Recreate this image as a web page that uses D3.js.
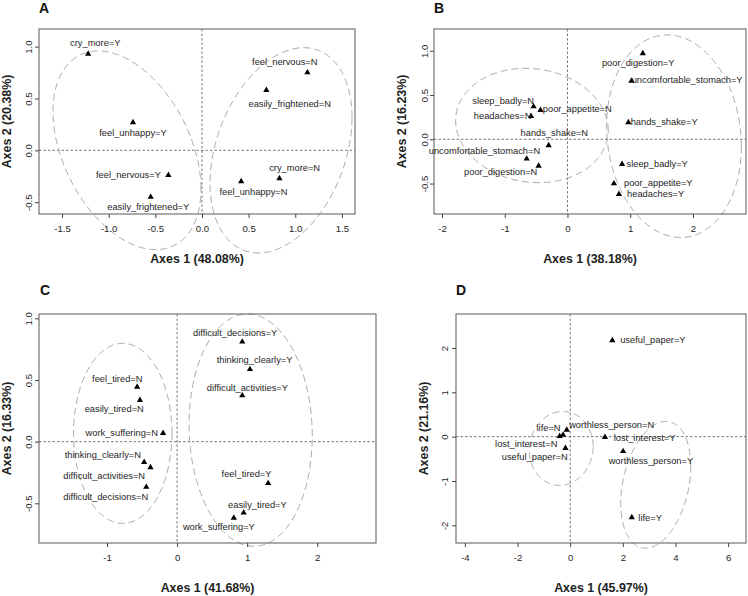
<!DOCTYPE html>
<html><head><meta charset="utf-8">
<script src="https://cdn.jsdelivr.net/npm/d3@7"></script>
<style>
body{margin:0;background:#fff;}
svg{display:block;font-family:"Liberation Sans",Arial,Helvetica,sans-serif;}
</style></head><body>
<svg id="chart" width="748" height="596"></svg>
<script>
// ---------------- DATA ----------------
const panelLetters = ["A", "B", "C", "D"];
const xTitles = ["Axes 1 (48.08%)", "Axes 1 (38.18%)", "Axes 1 (41.68%)", "Axes 1 (45.97%)"];
const yTitles = ["Axes 2 (20.38%)", "Axes 2 (16.23%)", "Axes 2 (16.33%)", "Axes 2 (21.16%)"];

// Panel A
const aLabels = ["cry_more=Y","feel_unhappy=Y","feel_nervous=Y","easily_frightened=Y","feel_nervous=N","easily_frightened=N","cry_more=N","feel_unhappy=N"];
const aX = [-1.22, -0.74, -0.36, -0.55, 1.13, 0.69, 0.83, 0.42];
const aY = [0.93, 0.27, -0.24, -0.45, 0.75, 0.58, -0.27, -0.30];
const aLabelX = [-1.144, -0.74, -0.788, -0.576, 0.887, 0.94, 0.993, 0.552];
const aLabelY = [1.038, 0.17, -0.238, -0.544, 0.849, 0.446, -0.174, -0.399];
const aXTicks = [-1.5, -1.0, -0.5, 0.0, 0.5, 1.0, 1.5];
const aYTicks = [-0.5, 0.0, 0.5, 1.0];
const aXLim = [-1.747, 1.64];
const aYLim = [-0.614, 1.17];
const aEllCX = [-0.804, 0.847];
const aEllCY = [0.0, 0.0];
const aEllW = [0.793, 0.761];
const aEllH = [0.958, 0.99];
const aEllTilt = [-0.39, 0.32];

// Panel B
const bLabels = ["poor_digestion=Y","uncomfortable_stomach=Y","hands_shake=Y","sleep_badly=Y","poor_appetite=Y","headaches=Y","sleep_badly=N","poor_appetite=N","headaches=N","hands_shake=N","uncomfortable_stomach=N","poor_digestion=N"];
const bX = [1.20, 1.02, 0.97, 0.87, 0.74, 0.82, -0.54, -0.43, -0.58, -0.30, -0.65, -0.46];
const bY = [0.97, 0.66, 0.19, -0.28, -0.50, -0.62, 0.37, 0.33, 0.26, -0.07, -0.22, -0.30];
const bLabelX = [1.127, 1.907, 1.541, 1.43, 1.447, 1.405, -1.025, 0.157, -1.033, -0.21, -1.323, -1.065];
const bLabelY = [0.866, 0.67, 0.192, -0.279, -0.497, -0.618, 0.429, 0.342, 0.26, 0.068, -0.129, -0.373];
const bXTicks = [-2, -1, 0, 1, 2];
const bYTicks = [-0.5, 0.0, 0.5, 1.0];
const bXLim = [-2.127, 2.845];
const bYLim = [-0.844, 1.246];
const bEllCX = [-0.566, 1.697];
const bEllCY = [0.156, 0.035];
const bEllW = [1.216, 1.074];
const bEllH = [0.646, 1.144];
const bEllTilt = [-0.085, -0.1];

// Panel C
const cLabels = ["difficult_decisions=Y","thinking_clearly=Y","difficult_activities=Y","feel_tired=Y","easily_tired=Y","work_suffering=Y","feel_tired=N","easily_tired=N","work_suffering=N","thinking_clearly=N","difficult_activities=N","difficult_decisions=N"];
const cX = [0.93, 1.04, 0.93, 1.30, 0.95, 0.81, -0.57, -0.53, -0.20, -0.47, -0.38, -0.44];
const cY = [0.81, 0.587, 0.374, -0.338, -0.577, -0.619, 0.444, 0.336, 0.069, -0.166, -0.209, -0.368];
const cLabelX = [0.829, 1.106, 1.003, 0.991, 1.146, 0.596, -0.854, -0.897, -0.79, -1.059, -1.04, -1.019];
const cLabelY = [0.879, 0.662, 0.433, -0.261, -0.512, -0.695, 0.506, 0.263, 0.069, -0.107, -0.277, -0.452];
const cXTicks = [-1, 0, 1, 2];
const cYTicks = [-0.5, 0.0, 0.5, 1.0];
const cXLim = [-1.971, 2.839];
const cYLim = [-0.822, 1.035];
const cEllCX = [-0.776, 1.05];
const cEllCY = [0.067, 0.093];
const cEllW = [0.703, 0.879];
const cEllH = [0.73, 0.942];
const cEllTilt = [0.0, -0.05];

// Panel D
const dLabels = ["useful_paper=Y","lost_interest=Y","worthless_person=Y","life=Y","life=N","worthless_person=N","lost_interest=N","useful_paper=N"];
const dX = [1.60, 1.32, 2.01, 2.34, -0.40, -0.13, -0.27, -0.18];
const dY = [2.17, -0.01, -0.33, -1.82, 0.01, 0.15, 0.04, -0.26];
const dLabelX = [3.14, 2.827, 3.067, 3.036, -0.823, 1.575, -1.67, -1.347];
const dLabelY = [2.173, -0.02, -0.559, -1.836, 0.191, 0.252, -0.169, -0.468];
const dXTicks = [-4, -2, 0, 2, 4, 6];
const dYTicks = [-2, -1, 0, 1, 2];
const dXLim = [-4.338, 6.679];
const dYLim = [-2.399, 2.766];
const dEllCX = [-0.34, 3.25];
const dEllCY = [-0.266, -1.086];
const dEllW = [1.214, 1.33];
const dEllH = [0.833, 1.43];
const dEllTilt = [0.05, 0.29];

// ---------------- LAYOUT ----------------
const boxes = [
  {l: 39, r: 355, t: 29, b: 214, letterX: 39, letterY: 13, yLabOff: 11},
  {l: 434, r: 746, t: 29, b: 214, letterX: 434, letterY: 13, yLabOff: 10},
  {l: 39, r: 376, t: 314, b: 543, letterX: 40, letterY: 295, yLabOff: 11},
  {l: 456, r: 746, t: 314, b: 543, letterX: 456, letterY: 295, yLabOff: 12}
];

const panels = [
  {x: aX, y: aY, labels: aLabels, lx: aLabelX, ly: aLabelY, xt: aXTicks, yt: aYTicks, xl: aXLim, yl: aYLim,
   ell: {cx: aEllCX, cy: aEllCY, w: aEllW, h: aEllH, tilt: aEllTilt}, xdec: 1, ydec: 1},
  {x: bX, y: bY, labels: bLabels, lx: bLabelX, ly: bLabelY, xt: bXTicks, yt: bYTicks, xl: bXLim, yl: bYLim,
   ell: {cx: bEllCX, cy: bEllCY, w: bEllW, h: bEllH, tilt: bEllTilt}, xdec: 0, ydec: 1},
  {x: cX, y: cY, labels: cLabels, lx: cLabelX, ly: cLabelY, xt: cXTicks, yt: cYTicks, xl: cXLim, yl: cYLim,
   ell: {cx: cEllCX, cy: cEllCY, w: cEllW, h: cEllH, tilt: cEllTilt}, xdec: 0, ydec: 1},
  {x: dX, y: dY, labels: dLabels, lx: dLabelX, ly: dLabelY, xt: dXTicks, yt: dYTicks, xl: dXLim, yl: dYLim,
   ell: {cx: dEllCX, cy: dEllCY, w: dEllW, h: dEllH, tilt: dEllTilt}, xdec: 0, ydec: 0}
];

const svg = d3.select("#chart");
svg.append("rect").attr("width", 748).attr("height", 596).attr("fill", "#fff");

const tickCol = "#444";
const textCol = "#1e1e1e";

panels.forEach((p, i) => {
  const bx = boxes[i];
  const g = svg.append("g");
  const xs = d3.scaleLinear().domain(p.xl).range([bx.l, bx.r]);
  const ys = d3.scaleLinear().domain(p.yl).range([bx.b, bx.t]);

  // zero reference lines
  g.append("line").attr("x1", xs(0)).attr("x2", xs(0)).attr("y1", bx.t).attr("y2", bx.b)
    .attr("stroke", "#555").attr("stroke-width", 0.8).attr("stroke-dasharray", "2.5,2");
  g.append("line").attr("x1", bx.l).attr("x2", bx.r).attr("y1", ys(0)).attr("y2", ys(0))
    .attr("stroke", "#555").attr("stroke-width", 0.8).attr("stroke-dasharray", "2.5,2");

  // ellipses
  const line = d3.line().x(d => xs(d[0])).y(d => ys(d[1]));
  p.ell.cx.forEach((cx, k) => {
    const phi = Math.acos(p.ell.tilt[k]);
    const pts = d3.range(0, 241).map(j => {
      const t = j / 240 * 2 * Math.PI;
      return [cx + p.ell.w[k] * Math.cos(t), p.ell.cy[k] + p.ell.h[k] * Math.cos(t - phi)];
    });
    g.append("path").attr("d", line(pts)).attr("fill", "none")
      .attr("stroke", "#a0a0a0").attr("stroke-width", 0.9).attr("stroke-dasharray", "7,4");
  });

  // box
  g.append("rect").attr("x", bx.l).attr("y", bx.t).attr("width", bx.r - bx.l).attr("height", bx.b - bx.t)
    .attr("fill", "none").attr("stroke", "#666").attr("stroke-width", 1.1);

  // x axis
  const xa = g.append("g").attr("transform", `translate(0,${bx.b})`)
    .call(d3.axisBottom(xs).tickValues(p.xt).tickFormat(d => d.toFixed(p.xdec)).tickSize(4).tickPadding(3));
  xa.select(".domain").remove();
  xa.selectAll(".tick line").attr("stroke", tickCol);
  xa.selectAll(".tick text").attr("font-size", "9.6px").attr("fill", textCol)
    .attr("font-family", "Liberation Sans, Arial, sans-serif")
    .attr("y", 14).attr("dy", null).attr("dominant-baseline", "central");

  // y axis
  const ya = g.append("g").attr("transform", `translate(${bx.l},0)`)
    .call(d3.axisLeft(ys).tickValues(p.yt).tickFormat(d => d.toFixed(p.ydec)).tickSize(4));
  ya.select(".domain").remove();
  ya.selectAll(".tick line").attr("stroke", tickCol);
  ya.selectAll(".tick text").attr("font-size", "9.6px").attr("fill", textCol)
    .attr("font-family", "Liberation Sans, Arial, sans-serif")
    .attr("x", 0).attr("y", -bx.yLabOff).attr("dy", null)
    .attr("dominant-baseline", "central").attr("text-anchor", "middle")
    .attr("transform", "rotate(-90)");

  // axis titles
  g.append("text").attr("x", (bx.l + bx.r) / 2).attr("y", bx.b + 45)
    .attr("text-anchor", "middle").attr("dominant-baseline", "central")
    .attr("font-size", "12.4px").attr("font-weight", "bold").attr("fill", textCol).text(xTitles[i]);
  const ytx = bx.l - 32, yty = (bx.t + bx.b) / 2;
  g.append("text").attr("x", ytx).attr("y", yty)
    .attr("transform", `rotate(-90,${ytx},${yty})`)
    .attr("text-anchor", "middle").attr("dominant-baseline", "central")
    .attr("font-size", "12.4px").attr("font-weight", "bold").attr("fill", textCol).text(yTitles[i]);

  // panel letter
  g.append("text").attr("x", bx.letterX).attr("y", bx.letterY)
    .attr("font-size", "14px").attr("font-weight", "bold").attr("fill", "#111").text(panelLetters[i]);

  // points
  const sym = d3.symbol(d3.symbolTriangle, 17);
  p.x.forEach((xv, k) => {
    g.append("path").attr("d", sym()).attr("transform", `translate(${xs(xv)},${ys(p.y[k])})`).attr("fill", "#000");
  });
  // labels
  p.labels.forEach((lab, k) => {
    g.append("text").attr("x", xs(p.lx[k])).attr("y", ys(p.ly[k]))
      .attr("text-anchor", "middle").attr("dominant-baseline", "central")
      .attr("font-size", "9.3px").attr("fill", textCol).text(lab);
  });
});
</script>
</body></html>
